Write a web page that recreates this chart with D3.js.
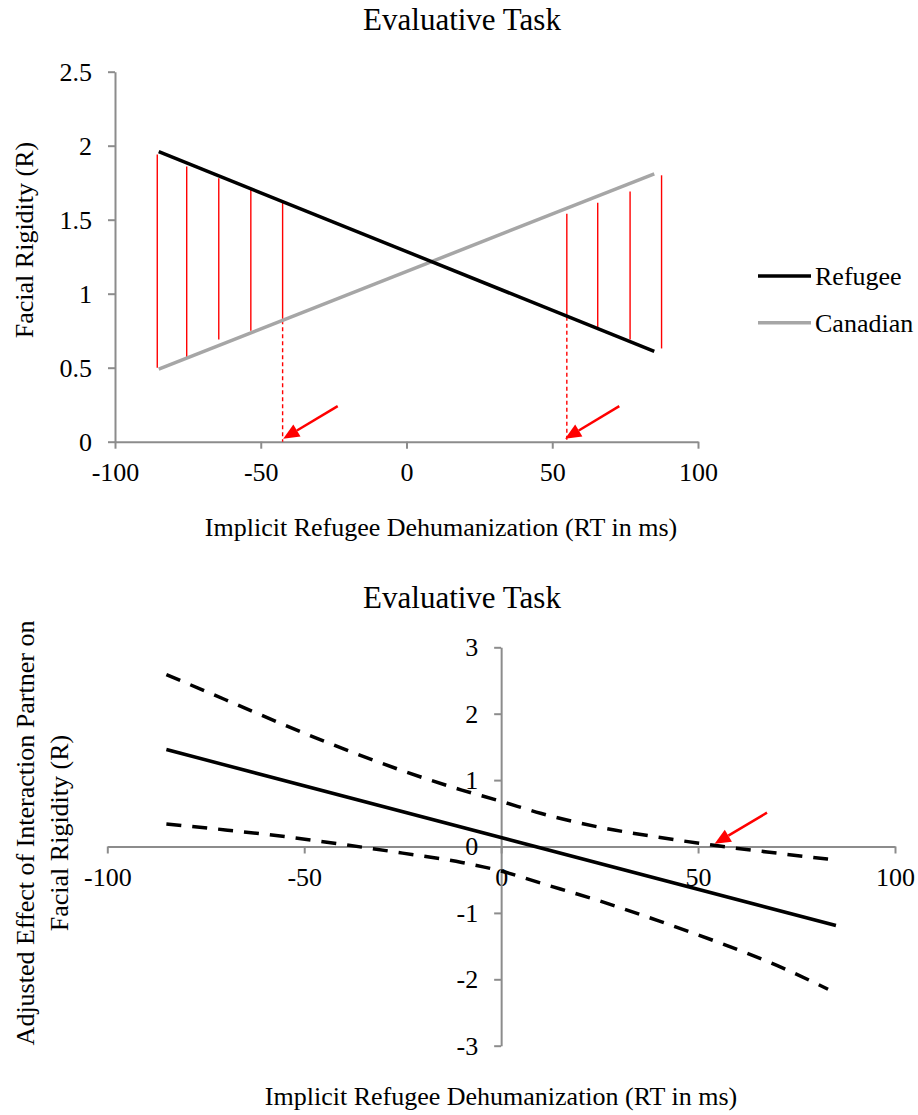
<!DOCTYPE html>
<html>
<head>
<meta charset="utf-8">
<script src="https://cdn.jsdelivr.net/npm/d3@7"></script>
<style>
  html, body { margin: 0; padding: 0; background: #fff; }
  svg { display: block; }
  text { font-family: "Liberation Serif", "Times New Roman", "DejaVu Serif", serif; fill: #000; }
</style>
</head>
<body>
<svg id="chart" width="918" height="1115"></svg>
<script>
// ---------- data ----------
const chartTitle = "Evaluative Task";
const xAxisTitle = "Implicit Refugee Dehumanization (RT in ms)";
const topYAxisTitle = "Facial Rigidity (R)";
const botYAxisTitle = ["Adjusted Effect of Interaction Partner on", "Facial Rigidity (R)"];

const xTicks = [-100, -50, 0, 50, 100];
const topYTicks = [0, 0.5, 1, 1.5, 2, 2.5];
const botYTicks = [-3, -2, -1, 0, 1, 2, 3];

// top panel: simple slopes
const seriesNames = ["Refugee", "Canadian"];
const slopeX = [-85, 85];
const refugee = [1.96, 0.61];
const canadian = [0.49, 1.81];

// significance region markers (red vertical lines)
const regionX = [-85.5, -75.4, -64.4, -53.4, -42.5, 55, 65.6, 76.7, 87.5];
const regionTop = [1.94, 1.86, 1.78, 1.70, 1.62, 1.54, 1.615, 1.69, 1.80];
const regionBottom = [0.50, 0.56, 0.69, 0.75, 0.83, 0.85, 0.77, 0.69, 0.63];
// Johnson-Neyman boundaries (dashed red drop lines)
const jnX = [-42.5, 55];
const jnTop = [0.82, 0.845];
// red arrows [tailX, tailY, tipX, tipY]
const topArrows = [[-23.6, 0.24, -42.3, 0.02], [73.0, 0.24, 54.4, 0.02]];

// bottom panel: adjusted effect with confidence bands
const effectX = [-85, 85];
const effect = [1.46, -1.19];
const ciX = [-85, -70, -55, -40, -25, -10, 0, 10, 25, 40, 55, 70, 83];
const ciUpper = [2.59, 2.21, 1.83, 1.47, 1.14, 0.85, 0.68, 0.50, 0.29, 0.14, 0.01, -0.10, -0.19];
const ciLower = [0.34, 0.25, 0.15, 0.03, -0.10, -0.24, -0.37, -0.55, -0.82, -1.12, -1.44, -1.79, -2.15];
const botArrows = [[67.5, 0.51, 54.2, 0.04]];

// ---------- drawing ----------
const svg = d3.select("#chart");
const AXIS = "#8c8c8c";
const RED = "#ff0000";
const FS = 26;
const fmt = d => String(d);

function drawArrow(g, x, y, a) {
  const x1 = x(a[0]), y1 = y(a[1]), x2 = x(a[2]), y2 = y(a[3]);
  const ang = Math.atan2(y2 - y1, x2 - x1);
  const L = 16, W = 7;
  const bx = x2 - L * Math.cos(ang), by = y2 - L * Math.sin(ang);
  g.append("line").attr("x1", x1).attr("y1", y1).attr("x2", bx).attr("y2", by)
    .attr("stroke", RED).attr("stroke-width", 2.5);
  const px = -Math.sin(ang) * W, py = Math.cos(ang) * W;
  g.append("path")
    .attr("d", `M${x2},${y2}L${bx + px},${by + py}L${bx - px},${by - py}Z`)
    .attr("fill", RED);
}

function styleAxis(g) {
  g.attr("font-family", null).attr("font-size", null);
  g.select(".domain").attr("stroke", AXIS).attr("stroke-width", 2);
  g.selectAll(".tick line").attr("stroke", AXIS).attr("stroke-width", 2);
  g.selectAll(".tick text").attr("font-size", FS).attr("fill", "#000");
}

// ===== TOP PANEL =====
const xT = d3.scaleLinear().domain([-100, 100]).range([115, 698]);
const yT = d3.scaleLinear().domain([0, 2.5]).range([441.7, 71.7]);
const gTop = svg.append("g");

gTop.append("text").attr("x", 462).attr("y", 30).attr("text-anchor", "middle")
  .attr("font-size", 31).text(chartTitle);

const gxT = gTop.append("g").attr("transform", `translate(0,${yT(0)})`)
  .call(d3.axisBottom(xT).tickValues(xTicks).tickSize(7).tickSizeOuter(0).tickPadding(14).tickFormat(fmt));
styleAxis(gxT);
const gyT = gTop.append("g").attr("transform", `translate(${xT(-100)},0)`)
  .call(d3.axisLeft(yT).tickValues(topYTicks).tickSize(7).tickSizeOuter(0).tickPadding(16).tickFormat(fmt));
styleAxis(gyT);

gTop.append("text").attr("x", 441).attr("y", 536).attr("text-anchor", "middle")
  .attr("font-size", FS).text(xAxisTitle);
gTop.append("text").attr("transform", `translate(33,240) rotate(-90)`).attr("text-anchor", "middle")
  .attr("font-size", FS).text(topYAxisTitle);

// red region lines
regionX.forEach((xv, i) => {
  gTop.append("line").attr("x1", xT(xv)).attr("x2", xT(xv))
    .attr("y1", yT(regionTop[i])).attr("y2", yT(regionBottom[i]))
    .attr("stroke", RED).attr("stroke-width", 1.4);
});
jnX.forEach((xv, i) => {
  gTop.append("line").attr("x1", xT(xv)).attr("x2", xT(xv))
    .attr("y1", yT(jnTop[i])).attr("y2", yT(0))
    .attr("stroke", RED).attr("stroke-width", 1.4).attr("stroke-dasharray", "4,3");
});

const lineT = d3.line().x(d => xT(d[0])).y(d => yT(d[1]));
gTop.append("path").datum(d3.zip(slopeX, canadian)).attr("d", lineT)
  .attr("fill", "none").attr("stroke", "#a6a6a6").attr("stroke-width", 3.5);
gTop.append("path").datum(d3.zip(slopeX, refugee)).attr("d", lineT)
  .attr("fill", "none").attr("stroke", "#000").attr("stroke-width", 3.5);

topArrows.forEach(a => drawArrow(gTop, xT, yT, a));

// legend
const legColors = ["#000", "#a6a6a6"];
seriesNames.forEach((n, i) => {
  const ly = 276 + i * 46.7;
  gTop.append("line").attr("x1", 758).attr("x2", 811).attr("y1", ly).attr("y2", ly)
    .attr("stroke", legColors[i]).attr("stroke-width", 3.5);
  gTop.append("text").attr("x", 815).attr("y", ly + 9).attr("font-size", FS).text(n);
});

// ===== BOTTOM PANEL =====
const xB = d3.scaleLinear().domain([-100, 100]).range([107.3, 895]);
const yB = d3.scaleLinear().domain([-3, 3]).range([1045.7, 647.3]);
const gBot = svg.append("g");

gBot.append("text").attr("x", 462).attr("y", 608).attr("text-anchor", "middle")
  .attr("font-size", 31).text(chartTitle);

const gxB = gBot.append("g").attr("transform", `translate(0,${yB(0)})`)
  .call(d3.axisBottom(xB).tickValues(xTicks).tickSize(7).tickSizeOuter(0).tickPadding(14).tickFormat(fmt));
styleAxis(gxB);
const gyB = gBot.append("g").attr("transform", `translate(${xB(0)},0)`)
  .call(d3.axisLeft(yB).tickValues(botYTicks).tickSize(7).tickSizeOuter(0).tickPadding(16).tickFormat(fmt));
styleAxis(gyB);

gBot.append("text").attr("x", 501).attr("y", 1105).attr("text-anchor", "middle")
  .attr("font-size", FS).text(xAxisTitle);
botYAxisTitle.forEach((t, i) => {
  gBot.append("text").attr("transform", `translate(${34 + i * 34},833) rotate(-90)`)
    .attr("text-anchor", "middle").attr("font-size", FS).text(t);
});

const lineB = d3.line().x(d => xB(d[0])).y(d => yB(d[1])).curve(d3.curveMonotoneX);
gBot.append("path").datum(d3.zip(ciX, ciUpper)).attr("d", lineB)
  .attr("fill", "none").attr("stroke", "#000").attr("stroke-width", 3.5).attr("stroke-dasharray", "15,11");
gBot.append("path").datum(d3.zip(ciX, ciLower)).attr("d", lineB)
  .attr("fill", "none").attr("stroke", "#000").attr("stroke-width", 3.5).attr("stroke-dasharray", "15,11");
gBot.append("path").datum(d3.zip(effectX, effect)).attr("d", lineB)
  .attr("fill", "none").attr("stroke", "#000").attr("stroke-width", 3.5);

botArrows.forEach(a => drawArrow(gBot, xB, yB, a));
</script>
</body>
</html>
